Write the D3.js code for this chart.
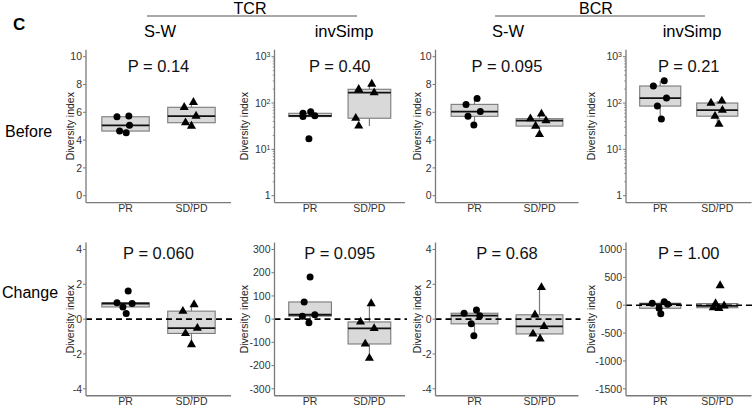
<!DOCTYPE html>
<html><head><meta charset="utf-8">
<script src="https://cdn.jsdelivr.net/npm/d3@7"></script>
<style>body{margin:0;background:#fff} svg{display:block}</style>
</head><body><svg id="c" width="755" height="407"></svg>
<script>
// ---------- data ----------
const categories = ["PR", "SD/PD"];
const rowLabels = ["Before", "Change"];
const receptors = ["TCR", "BCR"];
const indexNames = ["S-W", "invSimp", "S-W", "invSimp"];
const pValues = ["0.14", "0.40", "0.095", "0.21", "0.060", "0.095", "0.68", "1.00"];

const ticksSWBefore = [0, 2, 4, 6, 8, 10];
const ticksLog = [1, 10, 100, 1000];
const ticksSWChange = [-4, -2, 0, 2, 4];
const ticksTcrInvChange = [-300, -200, -100, 0, 100, 200, 300];
const ticksBcrInvChange = [-1500, -1000, -500, 0, 500, 1000];

// values (Diversity index)
const tcrSwBeforePR = [5.73, 5.68, 5.06, 4.65, 4.53];
const tcrSwBeforeSD = [6.36, 6.72, 5.73, 5.25, 5.01];
const tcrInvBeforePR = [60, 65, 51, 53, 17];
const tcrInvBeforeSD = [198, 257, 167, 47, 32];
const bcrSwBeforePR = [6.57, 7.0, 5.71, 6.05, 5.09];
const bcrSwBeforeSD = [5.54, 5.88, 5.4, 5.01, 4.41];
const bcrInvBeforePR = [233, 303, 128, 86, 45];
const bcrInvBeforeSD = [100, 111, 70, 52, 35];
const tcrSwChangePR = [1.62, 0.94, 0.90, 0.70, 0.32];
const tcrSwChangeSD = [0.46, 0.84, -0.52, -0.82, -1.46];
const tcrInvChangePR = [182, 74, 13, 19, -15];
const tcrInvChangeSD = [67, -12, -40, -107, -168];
const bcrSwChangePR = [0.34, 0.52, 0.2, -0.27, -0.95];
const bcrSwChangeSD = [0.25, 1.82, -0.42, -0.85, -1.13];
const bcrInvChangePR = [36, 61, 18, -55, -155];
const bcrInvChangeSD = [354, 30, -45, -55, -10];

// horizontal jitter of each point (in category units)
const jTcrSwBeforePR = [0.05, -0.13, 0.06, -0.09, 0.01];
const jTcrSwBeforeSD = [-0.11, 0.03, 0.07, -0.09, 0.0];
const jTcrInvBeforePR = [-0.12, 0.01, -0.12, 0.08, -0.02];
const jTcrInvBeforeSD = [-0.18, 0.04, 0.08, -0.23, -0.18];
const jBcrSwBeforePR = [-0.13, 0.04, -0.10, 0.09, -0.01];
const jBcrSwBeforeSD = [-0.14, 0.03, 0.10, -0.06, 0.0];
const jBcrInvBeforePR = [-0.12, 0.07, 0.11, -0.05, 0.02];
const jBcrInvBeforeSD = [-0.11, 0.08, 0.09, -0.04, 0.03];
const jTcrSwChangePR = [0.04, -0.13, 0.10, -0.04, 0.01];
const jTcrSwChangeSD = [-0.13, 0.04, 0.09, -0.09, 0.0];
const jTcrInvChangePR = [0.0, -0.10, -0.13, 0.08, -0.02];
const jTcrInvChangeSD = [0.03, -0.15, 0.08, -0.07, 0.0];
const jBcrSwChangePR = [-0.16, 0.03, 0.08, -0.05, -0.01];
const jBcrSwChangeSD = [-0.07, 0.03, 0.07, -0.10, 0.01];
const jBcrInvChangePR = [-0.14, 0.07, 0.13, -0.02, 0.01];
const jBcrInvChangeSD = [0.05, -0.03, -0.07, 0.03, 0.12];

// ---------- layout ----------
const FONT = "'Liberation Sans', Arial, Helvetica, sans-serif";
const colLayout = [
  {x0: 86, x1: 231, titleX: 70, headX: 160},
  {x0: 274.5, x1: 405, titleX: 244, headX: 344},
  {x0: 435.5, x1: 578.5, titleX: 417, headX: 508},
  {x0: 626, x1: 751.5, titleX: 591.5, headX: 692}
];
const rowLayout = [
  {top: 56.7, bottom: 195.7, pY: 72, labelY: 136.5},
  {top: 249.5, bottom: 388.8, pY: 259, labelY: 298}
];

const panels = [
  {row: 0, col: 0, log: false, lim: [0, 10], ticks: ticksSWBefore, pr: tcrSwBeforePR, sd: tcrSwBeforeSD, jpr: jTcrSwBeforePR, jsd: jTcrSwBeforeSD},
  {row: 0, col: 1, log: true, lim: [1, 1000], ticks: ticksLog, pr: tcrInvBeforePR, sd: tcrInvBeforeSD, jpr: jTcrInvBeforePR, jsd: jTcrInvBeforeSD},
  {row: 0, col: 2, log: false, lim: [0, 10], ticks: ticksSWBefore, pr: bcrSwBeforePR, sd: bcrSwBeforeSD, jpr: jBcrSwBeforePR, jsd: jBcrSwBeforeSD},
  {row: 0, col: 3, log: true, lim: [1, 1000], ticks: ticksLog, pr: bcrInvBeforePR, sd: bcrInvBeforeSD, jpr: jBcrInvBeforePR, jsd: jBcrInvBeforeSD},
  {row: 1, col: 0, log: false, lim: [-4, 4], ticks: ticksSWChange, pr: tcrSwChangePR, sd: tcrSwChangeSD, jpr: jTcrSwChangePR, jsd: jTcrSwChangeSD},
  {row: 1, col: 1, log: false, lim: [-300, 300], ticks: ticksTcrInvChange, pr: tcrInvChangePR, sd: tcrInvChangeSD, jpr: jTcrInvChangePR, jsd: jTcrInvChangeSD},
  {row: 1, col: 2, log: false, lim: [-4, 4], ticks: ticksSWChange, pr: bcrSwChangePR, sd: bcrSwChangeSD, jpr: jBcrSwChangePR, jsd: jBcrSwChangeSD},
  {row: 1, col: 3, log: false, lim: [-1500, 1000], ticks: ticksBcrInvChange, pr: bcrInvChangePR, sd: bcrInvChangeSD, jpr: jBcrInvChangePR, jsd: jBcrInvChangeSD}
];
panels.forEach((p, i) => p.p = pValues[i]);

const svg = d3.select("#c").style("font-family", FONT);
const AXIS = "#7a7a7a";

function boxStats(vals, log) {
  const t = vals.map(v => log ? Math.log10(v) : v).sort(d3.ascending);
  const q1 = d3.quantile(t, 0.25), med = d3.quantile(t, 0.5), q3 = d3.quantile(t, 0.75);
  const iqr = q3 - q1;
  const lo = d3.min(t.filter(v => v >= q1 - 1.5 * iqr));
  const hi = d3.max(t.filter(v => v <= q3 + 1.5 * iqr));
  const back = v => log ? Math.pow(10, v) : v;
  return {q1: back(q1), med: back(med), q3: back(q3), lo: back(lo), hi: back(hi)};
}

// header
svg.append("text").attr("x", 13).attr("y", 29.5).attr("font-size", 17).attr("font-weight", "bold").text("C");
const recX = [250, 596], recLine = [[147, 357], [495, 705]];
receptors.forEach((r, i) => {
  svg.append("text").attr("x", recX[i]).attr("y", 13.8).attr("text-anchor", "middle").attr("font-size", 16).text(r);
  svg.append("line").attr("x1", recLine[i][0]).attr("x2", recLine[i][1]).attr("y1", 16).attr("y2", 16)
    .attr("stroke", "#555").attr("stroke-width", 1.1);
});
colLayout.forEach((c, i) => {
  svg.append("text").attr("x", c.headX).attr("y", 36.5).attr("text-anchor", "middle").attr("font-size", 16.5).text(indexNames[i]);
});
const rowLabelX = [5, 2];
rowLabels.forEach((r, i) => {
  svg.append("text").attr("x", rowLabelX[i]).attr("y", rowLayout[i].labelY).attr("font-size", 16).text(r);
});

panels.forEach(p => {
  const c = colLayout[p.col], r = rowLayout[p.row];
  const g = svg.append("g");
  const x = d3.scalePoint().domain(categories).range([c.x0, c.x1]).padding(0.6);
  const step = x.step();
  const y = (p.log ? d3.scaleLog() : d3.scaleLinear()).domain(p.lim).range([r.bottom, r.top]);
  const ext = 0.05 * (r.bottom - r.top);
  const plotTop = r.top - ext, plotBottom = r.bottom + ext;
  const boxW = 0.72 * step;

  // boxes
  [[p.pr, categories[0]], [p.sd, categories[1]]].forEach(([vals, cat]) => {
    const s = boxStats(vals, p.log);
    const cx = x(cat);
    g.append("line").attr("x1", cx).attr("x2", cx).attr("y1", y(s.q3)).attr("y2", y(s.hi))
      .attr("stroke", AXIS).attr("stroke-width", 1.2);
    g.append("line").attr("x1", cx).attr("x2", cx).attr("y1", y(s.q1)).attr("y2", y(s.lo))
      .attr("stroke", AXIS).attr("stroke-width", 1.2);
    g.append("rect").attr("x", cx - boxW / 2).attr("width", boxW)
      .attr("y", y(s.q3)).attr("height", y(s.q1) - y(s.q3))
      .attr("fill", "#d9d9d9").attr("stroke", AXIS).attr("stroke-width", 1.1);
    g.append("line").attr("x1", cx - boxW / 2).attr("x2", cx + boxW / 2).attr("y1", y(s.med)).attr("y2", y(s.med))
      .attr("stroke", "#111").attr("stroke-width", 1.8);
  });

  // zero reference line
  if (p.row === 1) {
    g.append("line").attr("x1", c.x0).attr("x2", c.x1 + 2).attr("y1", y(0)).attr("y2", y(0))
      .attr("stroke", "#000").attr("stroke-width", 1.6).attr("stroke-dasharray", "6,4");
  }

  // points
  p.pr.forEach((v, i) => {
    g.append("circle").attr("cx", x(categories[0]) + p.jpr[i] * step).attr("cy", y(v)).attr("r", 3.5).attr("fill", "#000");
  });
  const tri = d3.symbol().type(d3.symbolTriangle).size(36);
  p.sd.forEach((v, i) => {
    g.append("path").attr("d", tri())
      .attr("transform", `translate(${x(categories[1]) + p.jsd[i] * step},${y(v)})`).attr("fill", "#000");
  });

  // axes lines
  g.append("line").attr("x1", c.x0).attr("x2", c.x0).attr("y1", plotTop).attr("y2", plotBottom)
    .attr("stroke", AXIS).attr("stroke-width", 1.3);
  g.append("line").attr("x1", c.x0).attr("x2", c.x1).attr("y1", plotBottom).attr("y2", plotBottom)
    .attr("stroke", AXIS).attr("stroke-width", 1.3);

  // y ticks
  if (p.log) {
    for (let k = 0; k < 3; k++) for (let m = 2; m <= 9; m++) {
      const v = m * Math.pow(10, k);
      g.append("line").attr("x1", c.x0 - 1.8).attr("x2", c.x0).attr("y1", y(v)).attr("y2", y(v))
        .attr("stroke", AXIS).attr("stroke-width", 0.8);
    }
  }
  p.ticks.forEach(t => {
    g.append("line").attr("x1", c.x0 - 3).attr("x2", c.x0).attr("y1", y(t)).attr("y2", y(t))
      .attr("stroke", AXIS).attr("stroke-width", 1);
    const tx = g.append("text").attr("x", c.x0 - 4).attr("y", y(t)).attr("dy", "0.36em")
      .attr("text-anchor", "end").attr("font-size", 10.5).attr("fill", "#333");
    if (p.log && t > 1) {
      tx.append("tspan").text("10");
      tx.append("tspan").attr("dy", "-0.45em").attr("font-size", 7).text(Math.round(Math.log10(t)));
    } else {
      tx.text(t);
    }
  });

  // x ticks and labels
  categories.forEach(cat => {
    g.append("line").attr("x1", x(cat)).attr("x2", x(cat)).attr("y1", plotBottom).attr("y2", plotBottom + 2.5)
      .attr("stroke", AXIS).attr("stroke-width", 1);
    g.append("text").attr("x", x(cat)).attr("y", plotBottom + 9.3).attr("text-anchor", "middle")
      .attr("font-size", 10.5).attr("fill", "#333").text(cat);
  });

  // y title
  const my = (plotTop + plotBottom) / 2;
  g.append("text").attr("transform", `translate(${c.titleX},${my}) rotate(-90)`).attr("dy", "0.35em")
    .attr("text-anchor", "middle").attr("font-size", 10.5).attr("fill", "#222").text("Diversity index");

  // P value
  g.append("text").attr("x", (c.x0 + c.x1) / 2).attr("y", r.pY).attr("text-anchor", "middle")
    .attr("font-size", 16.5).attr("fill", "#111").text("P = " + p.p);
});
</script>
</body></html>
